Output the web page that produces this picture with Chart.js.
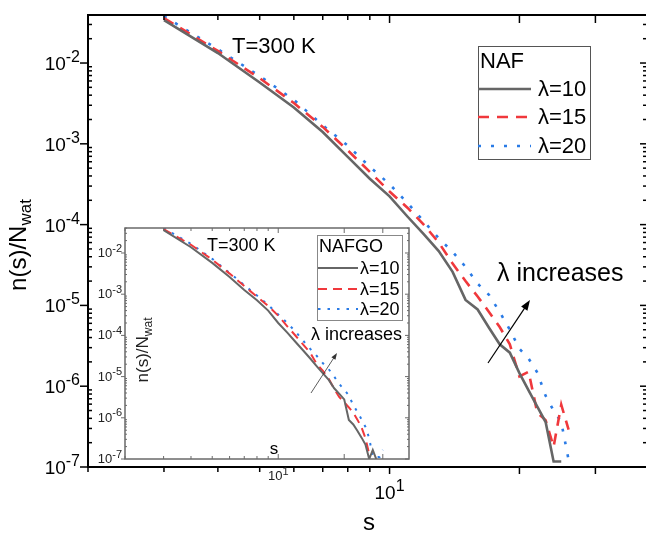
<!DOCTYPE html>
<html>
<head>
<meta charset="utf-8">
<script src="https://cdn.jsdelivr.net/npm/chart.js@4.4.1/dist/chart.umd.min.js"></script>
<style>
    html, body { margin: 0; padding: 0; background: #fff; overflow: hidden; }
    #wrap { position: relative; width: 646px; height: 533px; }
    #wrap canvas { position: absolute; left: 0; top: 0; }
</style>
</head>
<body>
<div id="wrap">
    <canvas id="main" width="646" height="533"></canvas>
    <canvas id="inset" width="646" height="533"></canvas>
</div>
<script>
// cluster sizes s
const sizes = [3, 4, 5, 6, 7, 8, 9, 10, 11, 12, 13, 14, 15, 16, 17, 18, 19, 20, 21, 22, 23, 24, 25, 26, 27, 28, 29, 30];
const lambdas = ["λ=10", "λ=15", "λ=20"];

// main plot: NAF
const naf10 = [3.4e-2, 1.33e-2, 5.75e-3, 2.82e-3, 1.4e-3, 6.9e-4, 3.7e-4, 2.24e-4, 1.26e-4, 7.6e-5, 4.7e-5, 2.6e-5, 1.17e-5, 8.9e-6, 5.3e-6, 3.3e-6, 2.6e-6, 1.45e-6, 8.9e-7, 5.6e-7, 3.6e-7, 1.17e-7, 1.17e-7];
const naf15 = [3.6e-2, 1.41e-2, 6.5e-3, 3.2e-3, 1.62e-3, 8.3e-4, 4.5e-4, 2.57e-4, 1.62e-4, 1.0e-4, 6.0e-5, 3.3e-5, 2.0e-5, 1.29e-5, 8.3e-6, 5.4e-6, 3.3e-6, 1.32e-6, 1.51e-6, 4.7e-7, 3.8e-7, 1.78e-7, 5.9e-7, 2.9e-7];
const naf20 = [3.8e-2, 1.48e-2, 6.9e-3, 3.5e-3, 1.7e-3, 9.5e-4, 5.2e-4, 3.16e-4, 1.86e-4, 1.1e-4, 6.8e-5, 4.6e-5, 3.0e-5, 1.86e-5, 1.35e-5, 8.3e-6, 5.0e-6, 2.9e-6, 2.2e-6, 1.48e-6, 7.6e-7, 5.0e-7, 3.6e-7, 1.23e-7];

// inset: NAFGO
const nafgo10 = [3.6e-2, 1.38e-2, 5.75e-3, 2.6e-3, 1.26e-3, 7.1e-4, 4.0e-4, 2.0e-4, 1.17e-4, 6.9e-5, 4.3e-5, 2.75e-5, 1.78e-5, 1.2e-5, 8.3e-6, 5.2e-6, 3.8e-6, 2.8e-6, 8.9e-7, 6.9e-7, 4.8e-7, 3.3e-7, 2.24e-7, 1.0e-7, 1.66e-7, 1.0e-7];
const nafgo15 = [3.8e-2, 1.58e-2, 6.9e-3, 3.16e-3, 1.58e-3, 8.7e-4, 5.2e-4, 3.0e-4, 1.66e-4, 9.8e-5, 6.0e-5, 3.8e-5, 2.0e-5, 1.38e-5, 8.9e-6, 5.0e-6, 3.16e-6, 2.4e-6, 1.78e-6, 1.32e-6, 8.9e-7, 5.8e-7, 3.2e-7, 1.32e-7];
const nafgo20 = [4.0e-2, 1.66e-2, 7.2e-3, 3.3e-3, 1.66e-3, 9.3e-4, 5.5e-4, 3.2e-4, 2.0e-4, 1.23e-4, 7.4e-5, 4.7e-5, 3.16e-5, 2.1e-5, 1.51e-5, 1.0e-5, 6.6e-6, 4.8e-6, 3.5e-6, 2.0e-6, 1.38e-6, 9.1e-7, 6.0e-7, 3.2e-7, 1.12e-7, 1.12e-7, 1.12e-7, 1.66e-7];

// axis ticks
const xMinorTicks = [2, 3, 4, 5, 6, 7, 8, 9];
const xMajorTicks = [10, 20, 30];
const xLabelTicks = [10];
const yDecades = [-7, -6, -5, -4, -3, -2];

const FONT = '"Liberation Sans", Arial, sans-serif';
const colors = ["#666666", "#f0383c", "#2a7be6"];

function pts(values) {
    return values.map((v, i) => ({ x: sizes[i], y: v }));
}

function makeSets(series, w, dash, dot) {
    return series.map((vals, i) => ({
        label: lambdas[i],
        data: pts(vals),
        borderColor: colors[i],
        borderWidth: w,
        borderDash: i === 0 ? [] : (i === 1 ? dash : dot),
        pointRadius: 0,
        tension: 0,
        fill: false,
    }));
}

function line(ctx, x1, y1, x2, y2) {
    ctx.beginPath();
    ctx.moveTo(x1, y1);
    ctx.lineTo(x2, y2);
    ctx.stroke();
}

// "10" with a raised exponent; y is the baseline of "10"
function pow10(ctx, x, y, exp, size, esize, align) {
    ctx.textAlign = "left";
    ctx.textBaseline = "alphabetic";
    ctx.font = size + "px " + FONT;
    const wb = ctx.measureText("10").width;
    ctx.font = esize + "px " + FONT;
    const we = ctx.measureText(exp).width;
    let x0 = x;
    if (align === "right") x0 = x - wb - we;
    if (align === "center") x0 = x - (wb + we) / 2;
    ctx.font = size + "px " + FONT;
    ctx.fillText("10", x0, y);
    ctx.font = esize + "px " + FONT;
    ctx.fillText(exp, x0 + wb, y - size * 0.42);
}

// rotated n(s)/N_wat
function yTitle(ctx, cx, cy, size) {
    const sub = Math.round(size * 0.7);
    ctx.save();
    ctx.translate(cx, cy);
    ctx.rotate(-Math.PI / 2);
    ctx.textAlign = "left";
    ctx.textBaseline = "alphabetic";
    ctx.font = size + "px " + FONT;
    const w1 = ctx.measureText("n(s)/N").width;
    ctx.font = sub + "px " + FONT;
    const w2 = ctx.measureText("wat").width;
    const x0 = -(w1 + w2) / 2;
    ctx.font = size + "px " + FONT;
    ctx.fillText("n(s)/N", x0, 0);
    ctx.font = sub + "px " + FONT;
    ctx.fillText("wat", x0 + w1, size * 0.22);
    ctx.restore();
}

function legend(ctx, chart, box, title, tsize, rows, x1, x2, tx, size) {
    ctx.strokeStyle = box.color;
    ctx.lineWidth = 1;
    ctx.strokeRect(box.x, box.y, box.w, box.h);
    ctx.fillStyle = "#000";
    ctx.textAlign = "left";
    ctx.textBaseline = "alphabetic";
    ctx.font = tsize + "px " + FONT;
    ctx.fillText(title.text, title.x, title.y);
    chart.data.datasets.forEach((ds, i) => {
        ctx.save();
        ctx.strokeStyle = ds.borderColor;
        ctx.lineWidth = ds.borderWidth;
        ctx.setLineDash(ds.borderDash);
        line(ctx, x1, rows[i], x2, rows[i]);
        ctx.restore();
        ctx.fillStyle = "#000";
        ctx.textBaseline = "middle";
        ctx.font = size + "px " + FONT;
        ctx.fillText(ds.label, tx, rows[i] + 1);
    });
}

function arrow(ctx, x1, y1, x2, y2, head, w, color) {
    ctx.save();
    ctx.strokeStyle = color;
    ctx.fillStyle = color;
    ctx.lineWidth = w;
    const ang = Math.atan2(y2 - y1, x2 - x1);
    line(ctx, x1, y1, x2 - Math.cos(ang) * head * 0.8, y2 - Math.sin(ang) * head * 0.8);
    ctx.beginPath();
    ctx.moveTo(x2, y2);
    ctx.lineTo(x2 - head * Math.cos(ang - 0.35), y2 - head * Math.sin(ang - 0.35));
    ctx.lineTo(x2 - head * Math.cos(ang + 0.35), y2 - head * Math.sin(ang + 0.35));
    ctx.closePath();
    ctx.fill();
    ctx.restore();
}

const mainAxes = {
    id: "mainAxes",
    afterDraw(chart) {
        const { ctx, chartArea: a, scales: { x, y } } = chart;
        ctx.save();
        ctx.strokeStyle = "#000";
        ctx.lineWidth = 2;
        ctx.beginPath();
        ctx.moveTo(a.right + 2, a.top);
        ctx.lineTo(a.left, a.top);
        ctx.lineTo(a.left, a.bottom);
        ctx.lineTo(a.right + 2, a.bottom);
        ctx.stroke();

        ctx.lineWidth = 1.5;
        xMinorTicks.forEach(v => {
            const px = x.getPixelForValue(v);
            line(ctx, px, a.bottom, px, a.bottom + 5);
            line(ctx, px, a.top, px, a.top + 5);
        });
        xMajorTicks.forEach(v => {
            const px = x.getPixelForValue(v);
            line(ctx, px, a.bottom, px, a.bottom + 7);
            line(ctx, px, a.top, px, a.top + 8);
        });
        yDecades.forEach(k => {
            const py = y.getPixelForValue(Math.pow(10, k));
            line(ctx, a.left - 8, py, a.left, py);
            line(ctx, a.right - 6, py, a.right, py);
            for (let m = 2; m <= 9; m++) {
                const v = m * Math.pow(10, k);
                if (v > y.max) break;
                const pm = y.getPixelForValue(v);
                line(ctx, a.left, pm, a.left + 4, pm);
                line(ctx, a.right - 3, pm, a.right, pm);
            }
        });

        ctx.fillStyle = "#000";
        yDecades.forEach(k => {
            const py = y.getPixelForValue(Math.pow(10, k));
            pow10(ctx, a.left - 8, py + 7, "-" + (-k), 19, 16, "right");
        });
        xLabelTicks.forEach(v => {
            pow10(ctx, x.getPixelForValue(v), a.bottom + 32, "1", 19, 16, "center");
        });

        yTitle(ctx, 26, 245, 24);
        ctx.font = "24px " + FONT;
        ctx.textAlign = "center";
        ctx.textBaseline = "alphabetic";
        ctx.fillText("s", 369, 530);

        ctx.textAlign = "left";
        ctx.font = "22px " + FONT;
        ctx.fillText("T=300 K", 232, 53);
        ctx.font = "25px " + FONT;
        ctx.fillText("λ increases", 497, 281);
        arrow(ctx, 488, 363, 530, 300, 11, 1.2, "#000");

        legend(ctx, chart, { x: 478.5, y: 46.5, w: 112, h: 113, color: "#555" },
            { text: "NAF", x: 480, y: 68 }, 22, [89, 117, 146], 478, 531, 538, 22);
        ctx.restore();
    },
};

const insetAxes = {
    id: "insetAxes",
    beforeDraw(chart) {
        const { ctx, chartArea: a } = chart;
        ctx.save();
        ctx.fillStyle = "#fff";
        ctx.fillRect(a.left, a.top, a.right - a.left, a.bottom - a.top);
        ctx.restore();
    },
    afterDraw(chart) {
        const { ctx, chartArea: a, scales: { x, y } } = chart;
        ctx.save();
        ctx.strokeStyle = "#6a6a6a";
        ctx.lineWidth = 1.5;
        ctx.strokeRect(a.left, a.top, a.right - a.left, a.bottom - a.top);

        ctx.lineWidth = 1;
        xMinorTicks.concat(xMajorTicks).forEach(v => {
            const px = x.getPixelForValue(v);
            const len = xMajorTicks.includes(v) ? 5 : 3;
            line(ctx, px, a.bottom, px, a.bottom - len);
            line(ctx, px, a.top, px, a.top + len);
        });
        yDecades.forEach(k => {
            const py = y.getPixelForValue(Math.pow(10, k));
            line(ctx, a.left - 4, py, a.left, py);
            line(ctx, a.right - 4, py, a.right, py);
            for (let m = 2; m <= 9; m++) {
                const v = m * Math.pow(10, k);
                if (v > y.max) break;
                const pm = y.getPixelForValue(v);
                line(ctx, a.left, pm, a.left + 2, pm);
                line(ctx, a.right - 2, pm, a.right, pm);
            }
        });

        ctx.fillStyle = "#222";
        yDecades.forEach(k => {
            const py = y.getPixelForValue(Math.pow(10, k));
            pow10(ctx, a.left - 3, py + 4, "-" + (-k), 13, 11, "right");
        });
        xLabelTicks.forEach(v => {
            pow10(ctx, x.getPixelForValue(v), a.bottom + 21, "1", 13, 11, "center");
        });

        yTitle(ctx, 148, 350, 17);
        ctx.fillStyle = "#000";
        ctx.font = "17px " + FONT;
        ctx.textAlign = "center";
        ctx.textBaseline = "alphabetic";
        ctx.fillText("s", 274, 454);

        ctx.textAlign = "left";
        ctx.font = "18px " + FONT;
        ctx.fillText("T=300 K", 207, 251);
        ctx.fillText("λ increases", 311, 340);
        arrow(ctx, 311, 393, 337, 353, 7, 0.8, "#333");

        legend(ctx, chart, { x: 317.5, y: 235.5, w: 85, h: 85, color: "#888" },
            { text: "NAFGO", x: 319, y: 252 }, 18, [268, 289, 309], 318, 358, 360, 18);
        ctx.restore();
    },
};

function logScales(xmax, ymax) {
    return {
        x: { type: "logarithmic", min: 2, max: xmax, display: false },
        y: { type: "logarithmic", min: 1e-7, max: ymax, display: false },
    };
}

new Chart(document.getElementById("main"), {
    type: "line",
    data: { datasets: makeSets([naf10, naf15, naf20], 2.6, [11, 8], [3, 10]) },
    options: {
        responsive: false,
        animation: false,
        events: [],
        layout: { padding: { left: 88, top: 15, right: 0, bottom: 66 } },
        scales: logScales(39.3, 0.0393),
        plugins: { legend: { display: false }, tooltip: { enabled: false } },
    },
    plugins: [mainAxes],
});

new Chart(document.getElementById("inset"), {
    type: "line",
    data: { datasets: makeSets([nafgo10, nafgo15, nafgo20], 2, [9, 6], [2.5, 7]) },
    options: {
        responsive: false,
        animation: false,
        events: [],
        layout: { padding: { left: 125, top: 228, right: 237, bottom: 74 } },
        scales: logScales(39.5, 0.0404),
        plugins: { legend: { display: false }, tooltip: { enabled: false } },
    },
    plugins: [insetAxes],
});
</script>
</body>
</html>
